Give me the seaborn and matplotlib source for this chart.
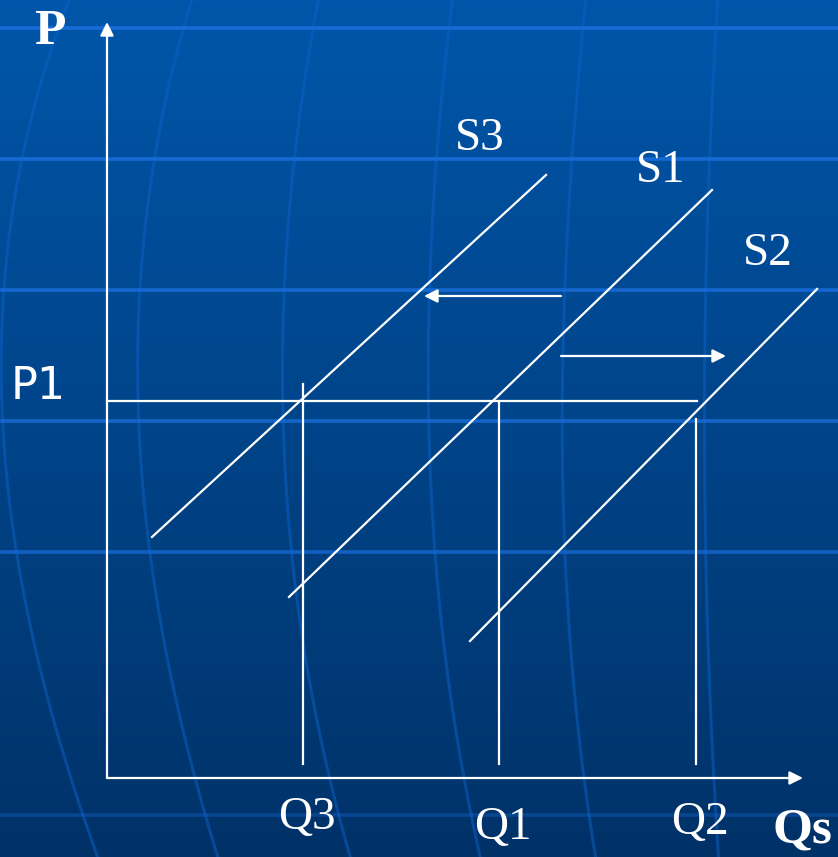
import numpy as np
import pandas as pd
import matplotlib
matplotlib.use("Agg")
import matplotlib.pyplot as plt
import seaborn as sns

# ---------------- data (origin = axis corner, units ~ pixels) ----------------
curve_names = ["S3", "S1", "S2"]
curve_q_start = [45, 182, 363]
curve_p_start = [241, 181, 137]
curve_q_end = [439, 605, 710]
curve_p_end = [603, 588, 489]
curve_label_q = [373, 554, 661]
curve_label_p = [639, 607, 524]

price_name = "P1"
price_level = 377
price_line_end = 590

qty_names = ["Q3", "Q1", "Q2"]
qty_values = [196, 392, 589]
qty_line_bottom = 14
qty_line_top = [394, 377, 359]
qty_label_p = [-40, -50, -45]

shift_left_from = [454, 482]
shift_left_to = [317, 482]
shift_right_from = [454, 422]
shift_right_to = [619, 422]

axis_q_max = 696
axis_p_max = 756

# background decoration (slide template)
grid_rows_px = [28, 159, 290, 421, 552, 815]
grid_row_alpha = [1.0, 0.95, 0.9, 0.85, 0.75, 0.35]
meridian_rows_px = [0, 110, 480, 680, 857]
meridians_px = [
    [68, 35, 5, 45, 97],
    [192, 163, 143, 171, 218],
    [318, 301, 285, 310, 350],
    [452, 441, 430, 449, 480],
    [585, 577, 561, 575, 595],
    [717, 713, 703, 711, 718],
]

W, H = 838, 857
OX, OY = 107, 778

fig = plt.figure(figsize=(W / 100, H / 100), dpi=100)
ax = fig.add_axes([0, 0, 1, 1])
ax.set_xlim(-OX, W - OX)
ax.set_ylim(OY - H, OY)
ax.axis("off")

# gradient background
top = np.array([0, 86, 170]) / 255
bot = np.array([0, 50, 104]) / 255
t = np.linspace(0, 1, 256)[:, None]
grad = (top[None, :] * (1 - t) + bot[None, :] * t)[:, None, :]
ax.imshow(grad, extent=(-OX, W - OX, OY - H, OY), aspect="auto", zorder=0)

# meridians
for mer in meridians_px:
    ys = np.array(meridian_rows_px, float)
    xs = np.array(mer, float)
    c = np.polyfit(ys, xs, 3)
    yy = np.linspace(0, H, 200)
    xx = np.polyval(c, yy)
    ax.plot(xx - OX, OY - yy, color=(0.05, 0.38, 0.78), lw=2.2, alpha=0.5, zorder=1)

for ry, a in zip(grid_rows_px, grid_row_alpha):
    ax.axhline(OY - ry, color=(0.09, 0.42, 0.84), lw=2.6, alpha=a, zorder=1)

# supply curves
rows = []
for n, q0, p0, q1, p1 in zip(curve_names, curve_q_start, curve_p_start, curve_q_end, curve_p_end):
    rows.append({"curve": n, "Q": q0, "P": p0})
    rows.append({"curve": n, "Q": q1, "P": p1})
df = pd.DataFrame(rows)
sns.lineplot(data=df, x="Q", y="P", units="curve", estimator=None, sort=False,
             color="white", lw=1.6, ax=ax, zorder=3)

# price line
dfp = pd.DataFrame({"Q": [0, price_line_end], "P": [price_level, price_level]})
sns.lineplot(data=dfp, x="Q", y="P", estimator=None, sort=False, color="white", lw=1.6, ax=ax, zorder=3)

# quantity verticals
vrows = []
for n, q, top_p in zip(qty_names, qty_values, qty_line_top):
    vrows.append({"name": n, "Q": q, "P": qty_line_bottom})
    vrows.append({"name": n, "Q": q, "P": top_p})
dfv = pd.DataFrame(vrows)
sns.lineplot(data=dfv, x="Q", y="P", units="name", estimator=None, sort=False,
             color="white", lw=1.6, ax=ax, zorder=3)

ax.set_xlim(-OX, W - OX)
ax.set_ylim(OY - H, OY)
ax.axis("off")

arrow_kw = dict(arrowstyle="-|>", color="white", lw=1.6, mutation_scale=20, shrinkA=0, shrinkB=0)
ax.annotate("", xy=(0, axis_p_max), xytext=(0, 0), arrowprops=arrow_kw, zorder=4)
ax.annotate("", xy=(axis_q_max, 0), xytext=(0, 0), arrowprops=arrow_kw, zorder=4)
ax.annotate("", xy=tuple(shift_left_to), xytext=tuple(shift_left_from), arrowprops=arrow_kw, zorder=4)
ax.annotate("", xy=tuple(shift_right_to), xytext=tuple(shift_right_from), arrowprops=arrow_kw, zorder=4)

serif = ["Liberation Serif", "DejaVu Serif"]
for n, q, p in zip(curve_names, curve_label_q, curve_label_p):
    ax.text(q, p, n, family=serif, fontsize=34, color="white", ha="center", va="center", zorder=5)
for n, q, p in zip(qty_names, qty_values, qty_label_p):
    ax.text(q + 4, p, n, family=serif, fontsize=34, color="white", ha="center", va="center", zorder=5)
ax.text(-57, 746, "P", family=serif, fontsize=37, fontweight="bold", color="white",
        ha="center", va="center", zorder=5)
ax.text(695, -53, "Qs", family=serif, fontsize=37, fontweight="bold", color="white",
        ha="center", va="center", zorder=5)
ax.text(-69, 392, price_name, family=["DejaVu Sans"], fontsize=32, color="white",
        ha="center", va="center", zorder=5)

fig.savefig("out.png", dpi=100)
